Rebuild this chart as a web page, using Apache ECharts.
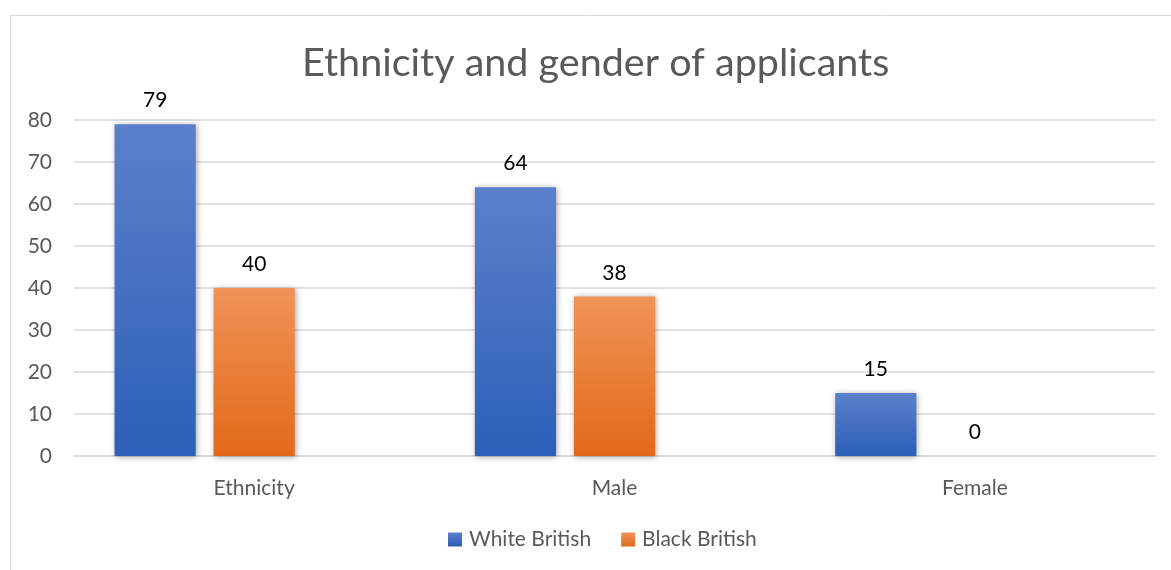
<!DOCTYPE html>
<html>
<head>
<meta charset="utf-8">
<script src="https://cdn.jsdelivr.net/npm/echarts@6/dist/echarts.min.js"></script>
<style>
  html, body { margin: 0; padding: 0; background: #fff; }
  #chart { width: 1171px; height: 570px; }
</style>
</head>
<body>
<div id="chart"></div>
<script>
// Applicant counts by category
const categories = ['Ethnicity', 'Male', 'Female'];
const whiteBritish = [79, 64, 15];
const blackBritish = [40, 38, 0];
const yTicks = { min: 0, max: 80, interval: 10 };

const FONT = 'Lato, "Open Sans", sans-serif';
const TEXT_SIZE = 21;

function grad(top, bottom) {
  return new echarts.graphic.LinearGradient(0, 0, 0, 1, [
    { offset: 0, color: top },
    { offset: 1, color: bottom }
  ]);
}

const barStyle = {
  shadowColor: 'rgba(0,0,0,0.35)',
  shadowBlur: 6,
  shadowOffsetX: 1,
  shadowOffsetY: 1
};

const labelStyle = {
  show: true,
  position: 'top',
  distance: 13,
  color: '#000',
  fontSize: TEXT_SIZE,
  fontFamily: FONT
};

const chart = echarts.init(document.getElementById('chart'), null, { renderer: 'canvas' });
chart.setOption({
  animation: false,
  backgroundColor: '#fff',
  graphic: [{
    type: 'rect',
    shape: { x: 10.5, y: 15.5, width: 1200, height: 600 },
    style: { fill: 'none', stroke: '#d9d9d9', lineWidth: 1 },
    z: -1
  }],
  title: {
    text: 'Ethnicity and gender of applicants',
    left: 297,
    top: 38,
    textStyle: { color: '#595959', fontSize: 39.5, fontWeight: 'normal', fontFamily: FONT }
  },
  legend: {
    data: ['White British', 'Black British'],
    bottom: 15,
    left: 443,
    itemWidth: 14,
    itemHeight: 14,
    itemGap: 30,
    icon: 'rect',
    textStyle: { color: '#595959', fontSize: TEXT_SIZE, fontFamily: FONT, padding: [0, 0, 0, 2] }
  },
  grid: { left: 74, right: 16, top: 120, bottom: 114, containLabel: false },
  xAxis: {
    type: 'category',
    data: categories,
    axisLine: { lineStyle: { color: '#d9d9d9', width: 1.5 } },
    axisTick: { show: false },
    axisLabel: { color: '#595959', fontSize: TEXT_SIZE, fontFamily: FONT, margin: 22 }
  },
  yAxis: {
    type: 'value',
    min: yTicks.min,
    max: yTicks.max,
    interval: yTicks.interval,
    axisLine: { show: false },
    axisTick: { show: false },
    axisLabel: { color: '#595959', fontSize: TEXT_SIZE, fontFamily: FONT, margin: 22 },
    splitLine: { lineStyle: { color: '#d9d9d9', width: 1.5 } }
  },
  series: [
    {
      name: 'White British',
      type: 'bar',
      data: whiteBritish,
      barGap: '22%',
      barCategoryGap: '22.5%',
      itemStyle: Object.assign({ color: grad('#5b80ca', '#2c5fb8') }, barStyle),
      label: labelStyle
    },
    {
      name: 'Black British',
      type: 'bar',
      data: blackBritish,
      itemStyle: Object.assign({ color: grad('#f09358', '#e2691a') }, barStyle),
      label: labelStyle
    },
    {
      name: 'Other',
      type: 'bar',
      data: [null, null, null],
      itemStyle: { color: '#a5a5a5' }
    }
  ]
});
</script>
</body>
</html>
